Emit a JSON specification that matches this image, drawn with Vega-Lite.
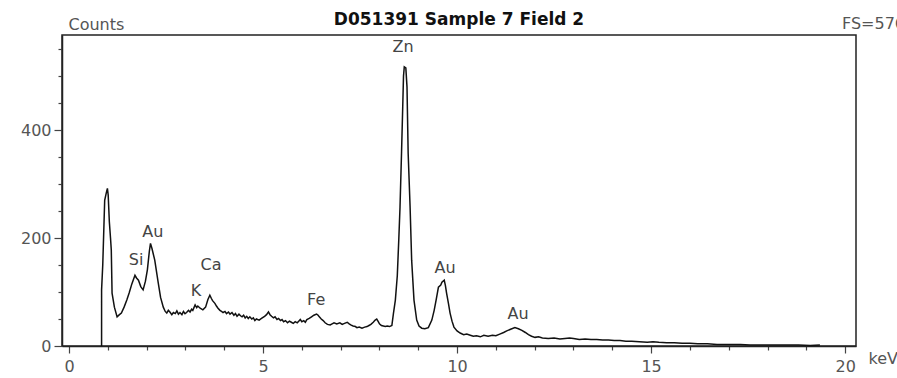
{
  "$schema": "https://vega.github.io/schema/vega-lite/v6.json",
  "width": 794,
  "height": 311,
  "autosize": "none",
  "padding": {"left": 62, "top": 35, "right": 41, "bottom": 32},
  "background": "white",
  "config": {"view": {"stroke": "#222", "strokeWidth": 1.5}, "font": "DejaVu Sans", "axis": {"labelOverlap": false}},
  "title": {"text": "D051391 Sample 7 Field 2", "fontSize": 17, "fontWeight": "bold", "font": "DejaVu Sans", "color": "#111", "anchor": "middle", "frame": "group", "offset": 7, "dy": 20},
  "datasets": {
    "spectrum": [
      {"keV": 0.84, "counts": 0}, {"keV": 0.84, "counts": 104}, {"keV": 0.87, "counts": 150}, {"keV": 0.92, "counts": 270},
      {"keV": 0.96, "counts": 283}, {"keV": 0.99, "counts": 292}, {"keV": 1.01, "counts": 280}, {"keV": 1.04, "counts": 230},
      {"keV": 1.07, "counts": 200}, {"keV": 1.09, "counts": 178}, {"keV": 1.11, "counts": 98}, {"keV": 1.17, "counts": 72},
      {"keV": 1.24, "counts": 54}, {"keV": 1.3, "counts": 58}, {"keV": 1.35, "counts": 61}, {"keV": 1.42, "counts": 72},
      {"keV": 1.49, "counts": 85}, {"keV": 1.55, "counts": 98}, {"keV": 1.62, "counts": 115}, {"keV": 1.7, "counts": 131},
      {"keV": 1.74, "counts": 126}, {"keV": 1.79, "counts": 122}, {"keV": 1.85, "counts": 110}, {"keV": 1.91, "counts": 104},
      {"keV": 1.97, "counts": 120}, {"keV": 2.02, "counts": 141}, {"keV": 2.07, "counts": 175}, {"keV": 2.1, "counts": 190},
      {"keV": 2.14, "counts": 180}, {"keV": 2.21, "counts": 159}, {"keV": 2.3, "counts": 117}, {"keV": 2.36, "counts": 90},
      {"keV": 2.43, "counts": 72}, {"keV": 2.48, "counts": 64}, {"keV": 2.52, "counts": 61}, {"keV": 2.56, "counts": 66},
      {"keV": 2.6, "counts": 63}, {"keV": 2.65, "counts": 58}, {"keV": 2.69, "counts": 62}, {"keV": 2.74, "counts": 60},
      {"keV": 2.78, "counts": 65}, {"keV": 2.82, "counts": 59}, {"keV": 2.86, "counts": 62}, {"keV": 2.91, "counts": 58},
      {"keV": 2.95, "counts": 64}, {"keV": 2.99, "counts": 60}, {"keV": 3.03, "counts": 62}, {"keV": 3.08, "counts": 66},
      {"keV": 3.12, "counts": 63}, {"keV": 3.16, "counts": 68}, {"keV": 3.19, "counts": 66}, {"keV": 3.25, "counts": 76},
      {"keV": 3.29, "counts": 71}, {"keV": 3.32, "counts": 74}, {"keV": 3.38, "counts": 70}, {"keV": 3.45, "counts": 67},
      {"keV": 3.52, "counts": 72}, {"keV": 3.58, "counts": 86}, {"keV": 3.63, "counts": 94}, {"keV": 3.67, "counts": 88},
      {"keV": 3.7, "counts": 84}, {"keV": 3.76, "counts": 79}, {"keV": 3.8, "counts": 74}, {"keV": 3.84, "counts": 70},
      {"keV": 3.89, "counts": 66}, {"keV": 3.93, "counts": 64}, {"keV": 3.97, "counts": 62}, {"keV": 4.02, "counts": 64},
      {"keV": 4.06, "counts": 60}, {"keV": 4.11, "counts": 63}, {"keV": 4.15, "counts": 59}, {"keV": 4.2, "counts": 62},
      {"keV": 4.25, "counts": 57}, {"keV": 4.29, "counts": 60}, {"keV": 4.33, "counts": 55}, {"keV": 4.38, "counts": 59},
      {"keV": 4.42, "counts": 56}, {"keV": 4.46, "counts": 54}, {"keV": 4.5, "counts": 57}, {"keV": 4.54, "counts": 52},
      {"keV": 4.58, "counts": 55}, {"keV": 4.62, "counts": 51}, {"keV": 4.66, "counts": 54}, {"keV": 4.71, "counts": 50},
      {"keV": 4.75, "counts": 52}, {"keV": 4.79, "counts": 47}, {"keV": 4.83, "counts": 50}, {"keV": 4.9, "counts": 48},
      {"keV": 4.96, "counts": 51}, {"keV": 5.0, "counts": 53}, {"keV": 5.04, "counts": 55}, {"keV": 5.09, "counts": 58},
      {"keV": 5.14, "counts": 63}, {"keV": 5.18, "counts": 58}, {"keV": 5.22, "counts": 55}, {"keV": 5.27, "counts": 52},
      {"keV": 5.31, "counts": 54}, {"keV": 5.36, "counts": 49}, {"keV": 5.4, "counts": 51}, {"keV": 5.45, "counts": 47},
      {"keV": 5.49, "counts": 49}, {"keV": 5.53, "counts": 45}, {"keV": 5.58, "counts": 47}, {"keV": 5.63, "counts": 43},
      {"keV": 5.68, "counts": 46}, {"keV": 5.73, "counts": 44}, {"keV": 5.78, "counts": 42}, {"keV": 5.83, "counts": 45},
      {"keV": 5.88, "counts": 43}, {"keV": 5.92, "counts": 46}, {"keV": 5.96, "counts": 49}, {"keV": 6.0, "counts": 45},
      {"keV": 6.05, "counts": 47}, {"keV": 6.09, "counts": 44}, {"keV": 6.13, "counts": 49}, {"keV": 6.19, "counts": 51},
      {"keV": 6.25, "counts": 54}, {"keV": 6.31, "counts": 57}, {"keV": 6.38, "counts": 59}, {"keV": 6.42, "counts": 57},
      {"keV": 6.45, "counts": 54}, {"keV": 6.5, "counts": 50}, {"keV": 6.55, "counts": 47}, {"keV": 6.6, "counts": 43},
      {"keV": 6.66, "counts": 40}, {"keV": 6.73, "counts": 39}, {"keV": 6.78, "counts": 41}, {"keV": 6.83, "counts": 43},
      {"keV": 6.9, "counts": 41}, {"keV": 6.98, "counts": 43}, {"keV": 7.04, "counts": 40}, {"keV": 7.1, "counts": 42},
      {"keV": 7.17, "counts": 44}, {"keV": 7.22, "counts": 41}, {"keV": 7.26, "counts": 39}, {"keV": 7.32, "counts": 37},
      {"keV": 7.38, "counts": 36}, {"keV": 7.42, "counts": 34}, {"keV": 7.48, "counts": 35}, {"keV": 7.55, "counts": 33},
      {"keV": 7.62, "counts": 35}, {"keV": 7.68, "counts": 36}, {"keV": 7.73, "counts": 38}, {"keV": 7.78, "counts": 40},
      {"keV": 7.84, "counts": 44}, {"keV": 7.89, "counts": 48}, {"keV": 7.93, "counts": 50}, {"keV": 7.97, "counts": 45},
      {"keV": 8.0, "counts": 41}, {"keV": 8.05, "counts": 38}, {"keV": 8.1, "counts": 37}, {"keV": 8.15, "counts": 36},
      {"keV": 8.2, "counts": 37}, {"keV": 8.26, "counts": 36}, {"keV": 8.32, "counts": 38}, {"keV": 8.36, "counts": 60},
      {"keV": 8.41, "counts": 85}, {"keV": 8.46, "counts": 130}, {"keV": 8.5, "counts": 200}, {"keV": 8.53, "counts": 257},
      {"keV": 8.57, "counts": 360}, {"keV": 8.6, "counts": 443}, {"keV": 8.62, "counts": 500}, {"keV": 8.64, "counts": 517},
      {"keV": 8.68, "counts": 515}, {"keV": 8.71, "counts": 480}, {"keV": 8.74, "counts": 357}, {"keV": 8.79, "counts": 257},
      {"keV": 8.83, "counts": 159}, {"keV": 8.89, "counts": 85}, {"keV": 8.96, "counts": 48}, {"keV": 9.02, "counts": 37},
      {"keV": 9.09, "counts": 33}, {"keV": 9.17, "counts": 32}, {"keV": 9.26, "counts": 34}, {"keV": 9.35, "counts": 48},
      {"keV": 9.41, "counts": 66}, {"keV": 9.46, "counts": 85}, {"keV": 9.52, "counts": 109}, {"keV": 9.58, "counts": 113},
      {"keV": 9.61, "counts": 118}, {"keV": 9.67, "counts": 122}, {"keV": 9.7, "counts": 112}, {"keV": 9.73, "counts": 98},
      {"keV": 9.78, "counts": 78}, {"keV": 9.82, "counts": 61}, {"keV": 9.87, "counts": 46}, {"keV": 9.92, "counts": 35},
      {"keV": 10.0, "counts": 28}, {"keV": 10.08, "counts": 24}, {"keV": 10.17, "counts": 21}, {"keV": 10.25, "counts": 22},
      {"keV": 10.34, "counts": 20}, {"keV": 10.42, "counts": 18}, {"keV": 10.5, "counts": 19}, {"keV": 10.6, "counts": 17},
      {"keV": 10.69, "counts": 20}, {"keV": 10.8, "counts": 18}, {"keV": 10.91, "counts": 20}, {"keV": 11.0, "counts": 19},
      {"keV": 11.1, "counts": 22}, {"keV": 11.2, "counts": 25}, {"keV": 11.28, "counts": 28}, {"keV": 11.38, "counts": 31},
      {"keV": 11.49, "counts": 34}, {"keV": 11.58, "counts": 32}, {"keV": 11.67, "counts": 29}, {"keV": 11.76, "counts": 25},
      {"keV": 11.84, "counts": 21}, {"keV": 11.92, "counts": 18}, {"keV": 12.01, "counts": 16}, {"keV": 12.1, "counts": 17},
      {"keV": 12.2, "counts": 15}, {"keV": 12.35, "counts": 14}, {"keV": 12.5, "counts": 15}, {"keV": 12.65, "counts": 13},
      {"keV": 12.78, "counts": 14}, {"keV": 12.9, "counts": 15}, {"keV": 13.0, "counts": 14}, {"keV": 13.15, "counts": 12},
      {"keV": 13.3, "counts": 13}, {"keV": 13.45, "counts": 12}, {"keV": 13.6, "counts": 12}, {"keV": 13.75, "counts": 11},
      {"keV": 13.9, "counts": 11}, {"keV": 14.05, "counts": 10}, {"keV": 14.2, "counts": 10}, {"keV": 14.35, "counts": 9},
      {"keV": 14.5, "counts": 9}, {"keV": 14.7, "counts": 8}, {"keV": 14.9, "counts": 7}, {"keV": 15.05, "counts": 8},
      {"keV": 15.2, "counts": 7}, {"keV": 15.4, "counts": 6}, {"keV": 15.6, "counts": 6}, {"keV": 15.8, "counts": 5},
      {"keV": 16.0, "counts": 5}, {"keV": 16.2, "counts": 4}, {"keV": 16.45, "counts": 4}, {"keV": 16.7, "counts": 3},
      {"keV": 16.9, "counts": 3}, {"keV": 17.1, "counts": 3}, {"keV": 17.3, "counts": 3}, {"keV": 17.55, "counts": 2},
      {"keV": 17.8, "counts": 2}, {"keV": 18.05, "counts": 2}, {"keV": 18.3, "counts": 2}, {"keV": 18.55, "counts": 2},
      {"keV": 18.8, "counts": 2}, {"keV": 19.1, "counts": 1}, {"keV": 19.35, "counts": 2}
    ],
    "peaks": [
      {"keV": 8.61, "counts": 554, "element": "Zn"},
      {"keV": 2.16, "counts": 211, "element": "Au"},
      {"keV": 1.73, "counts": 159, "element": "Si"},
      {"keV": 3.66, "counts": 150, "element": "Ca"},
      {"keV": 3.27, "counts": 102, "element": "K"},
      {"keV": 6.37, "counts": 85, "element": "Fe"},
      {"keV": 9.69, "counts": 144, "element": "Au"},
      {"keV": 11.57, "counts": 59, "element": "Au"}
    ],
    "note": [{"label": "FS=576"}]
  },
  "layer": [
    {
      "data": {"name": "spectrum"},
      "mark": {"type": "line", "color": "#111", "strokeWidth": 1.5, "interpolate": "linear"},
      "encoding": {
        "x": {
          "field": "keV", "type": "quantitative",
          "scale": {"domain": [-0.18, 20.28], "nice": false, "zero": false},
          "axis": {
            "values": [0,1,2,3,4,5,6,7,8,9,10,11,12,13,14,15,16,17,18,19,20],
            "tickCount": 100,
            "format": "d",
            "labelOpacity": {"condition": {"test": "datum.value % 5 === 0", "value": 1}, "value": 0},
            "labelOverlap": false,
            "tickSize": {"condition": {"test": "datum.value % 5 === 0", "value": 7}, "value": 4},
            "tickColor": "#444", "tickWidth": 1.2,
            "domainColor": "#222", "domainWidth": 1.5,
            "grid": false,
            "labelFontSize": 16, "labelColor": "#555", "labelPadding": 5, "labelFlush": false,
            "title": "keV", "titleFontSize": 16, "titleFontWeight": "normal", "titleColor": "#555",
            "titleX": 806, "titleY": 12, "titleAlign": "left", "titleBaseline": "middle", "titleAnchor": null
          }
        },
        "y": {
          "field": "counts", "type": "quantitative",
          "scale": {"domain": [0, 576], "nice": false},
          "axis": {
            "values": [0,50,100,150,200,250,300,350,400,450,500,550],
            "tickCount": 100,
            "format": "d",
            "labelOpacity": {"condition": {"test": "datum.value % 200 === 0", "value": 1}, "value": 0},
            "labelOverlap": false,
            "tickSize": {"condition": {"test": "datum.value % 200 === 0", "value": 8}, "value": 4},
            "tickColor": "#444", "tickWidth": 1.2,
            "domainColor": "#222", "domainWidth": 1.5,
            "grid": false,
            "labelFontSize": 16, "labelColor": "#555", "labelPadding": 3, "labelFlush": false,
            "title": "Counts", "titleAngle": 0, "titleFontSize": 16, "titleFontWeight": "normal", "titleColor": "#555",
            "titleX": 6, "titleY": -11, "titleAlign": "left", "titleBaseline": "middle", "titleAnchor": null
          }
        }
      }
    },
    {
      "data": {"name": "peaks"},
      "mark": {"type": "text", "fontSize": 16, "color": "#444", "align": "center", "baseline": "middle", "font": "DejaVu Sans"},
      "encoding": {
        "x": {"field": "keV", "type": "quantitative"},
        "y": {"field": "counts", "type": "quantitative"},
        "text": {"field": "element"}
      }
    },
    {
      "data": {"name": "note"},
      "mark": {"type": "text", "fontSize": 16, "color": "#555", "align": "left", "baseline": "middle", "font": "DejaVu Sans", "clip": false},
      "encoding": {
        "x": {"datum": 19.92, "type": "quantitative"},
        "y": {"datum": 596, "type": "quantitative"},
        "text": {"field": "label"}
      }
    }
  ]
}
